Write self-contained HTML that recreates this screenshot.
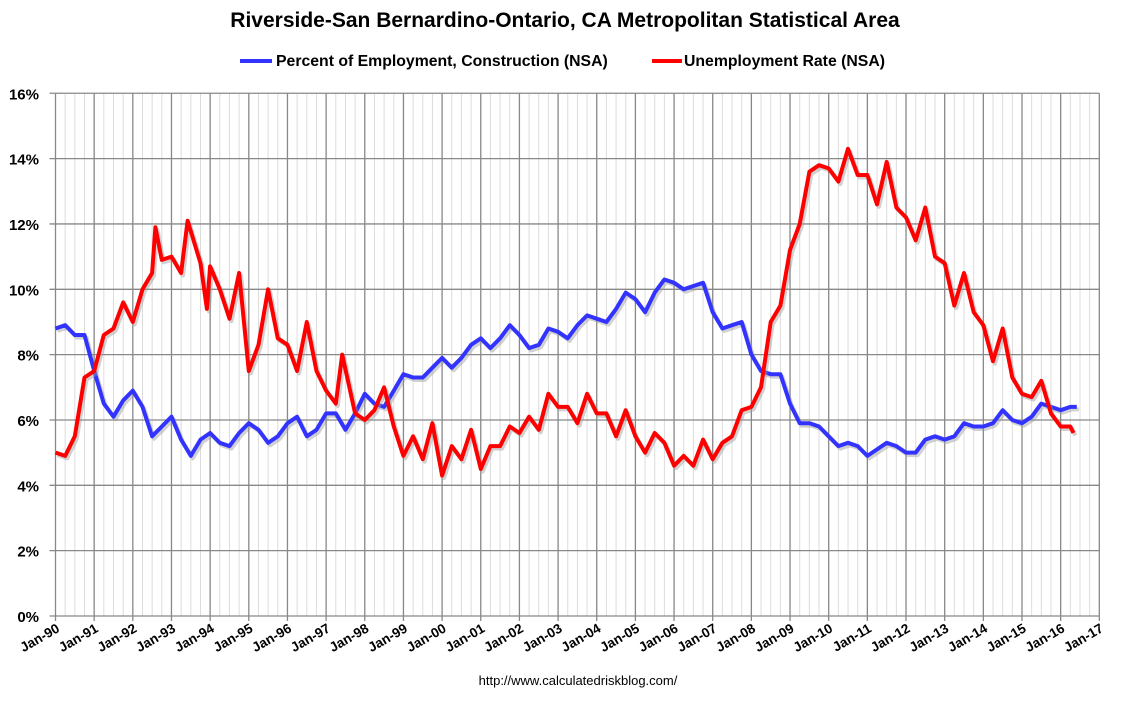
<!DOCTYPE html>
<html><head><meta charset="utf-8"><style>
html,body{margin:0;padding:0;background:#fff;}
svg text{font-family:"Liberation Sans",Arial,sans-serif;}
</style></head><body>
<svg id="chart" width="1121" height="697" xmlns="http://www.w3.org/2000/svg">
<text x="565" y="27" text-anchor="middle" font-size="21" font-weight="bold" fill="#000">Riverside-San Bernardino-Ontario, CA Metropolitan Statistical Area</text>
<g>
<line x1="240" y1="61" x2="272" y2="61" stroke="#3333ff" stroke-width="4"/>
<text x="276" y="66" font-size="15.8" font-weight="bold">Percent of Employment, Construction (NSA)</text>
<line x1="652" y1="61" x2="682" y2="61" stroke="#ff0000" stroke-width="4"/>
<text x="684" y="66" font-size="15.8" font-weight="bold">Unemployment Rate (NSA)</text>
</g>
<g id="grid"></g><g id="axes"></g><g id="series"></g>
<text x="578" y="685" text-anchor="middle" font-size="13">http://www.calculatedriskblog.com/</text>
</svg>
<script>
const yTicks=[0,2,4,6,8,10,12,14,16];
const xTickLabels=["Jan-90","Jan-91","Jan-92","Jan-93","Jan-94","Jan-95","Jan-96","Jan-97","Jan-98","Jan-99","Jan-00","Jan-01","Jan-02","Jan-03","Jan-04","Jan-05","Jan-06","Jan-07","Jan-08","Jan-09","Jan-10","Jan-11","Jan-12","Jan-13","Jan-14","Jan-15","Jan-16","Jan-17"];
// months since Jan-1990
const constructionMonths=[0,3,6,9,12,15,18,21,24,27,30,33,36,39,42,45,48,51,54,57,60,63,66,69,72,75,78,81,84,87,90,93,96,99,102,105,108,111,114,117,120,123,126,129,132,135,138,141,144,147,150,153,156,159,162,165,168,171,174,177,180,183,186,189,192,195,198,201,204,207,210,213,216,219,222,225,228,231,234,237,240,243,246,249,252,255,258,261,264,267,270,273,276,279,282,285,288,291,294,297,300,303,306,309,312,315,317];
const constructionValues=[8.8,8.9,8.6,8.6,7.5,6.5,6.1,6.6,6.9,6.4,5.5,5.8,6.1,5.4,4.9,5.4,5.6,5.3,5.2,5.6,5.9,5.7,5.3,5.5,5.9,6.1,5.5,5.7,6.2,6.2,5.7,6.2,6.8,6.5,6.4,6.9,7.4,7.3,7.3,7.6,7.9,7.6,7.9,8.3,8.5,8.2,8.5,8.9,8.6,8.2,8.3,8.8,8.7,8.5,8.9,9.2,9.1,9.0,9.4,9.9,9.7,9.3,9.9,10.3,10.2,10.0,10.1,10.2,9.3,8.8,8.9,9.0,8.0,7.5,7.4,7.4,6.5,5.9,5.9,5.8,5.5,5.2,5.3,5.2,4.9,5.1,5.3,5.2,5.0,5.0,5.4,5.5,5.4,5.5,5.9,5.8,5.8,5.9,6.3,6.0,5.9,6.1,6.5,6.4,6.3,6.4,6.4];
const unemploymentMonths=[0,3,6,9,12,15,18,21,24,27,30,31,33,36,39,41,45,47,48,51,54,57,60,63,66,69,72,75,78,81,84,87,89,93,96,99,102,105,108,111,114,117,120,123,126,129,132,135,138,141,144,147,150,153,156,159,162,165,168,171,174,177,180,183,186,189,192,195,198,201,204,207,210,213,216,219,222,225,228,231,234,237,240,243,246,249,252,255,258,261,264,267,270,273,276,279,282,285,288,291,294,297,300,303,306,309,312,315,316];
const unemploymentValues=[5.0,4.9,5.5,7.3,7.5,8.6,8.8,9.6,9.0,10.0,10.5,11.9,10.9,11.0,10.5,12.1,10.8,9.4,10.7,10.0,9.1,10.5,7.5,8.3,10.0,8.5,8.3,7.5,9.0,7.5,6.9,6.5,8.0,6.2,6.0,6.3,7.0,5.8,4.9,5.5,4.8,5.9,4.3,5.2,4.8,5.7,4.5,5.2,5.2,5.8,5.6,6.1,5.7,6.8,6.4,6.4,5.9,6.8,6.2,6.2,5.5,6.3,5.5,5.0,5.6,5.3,4.6,4.9,4.6,5.4,4.8,5.3,5.5,6.3,6.4,7.0,9.0,9.5,11.2,12.0,13.6,13.8,13.7,13.3,14.3,13.5,13.5,12.6,13.9,12.5,12.2,11.5,12.5,11.0,10.8,9.5,10.5,9.3,8.9,7.8,8.8,7.3,6.8,6.7,7.2,6.2,5.8,5.8,5.6];

const NS="http://www.w3.org/2000/svg";
const X0=55.5,PX_YR=38.66,Y0=616,PX_PCT=32.67;
function xScale(m){return X0+m/12*PX_YR;}
function yScale(v){return Y0-v*PX_PCT;}
function mk(tag,attrs,parent){const e=document.createElementNS(NS,tag);for(const k in attrs)e.setAttribute(k,attrs[k]);parent.appendChild(e);return e;}
const grid=document.getElementById('grid'),axes=document.getElementById('axes'),series=document.getElementById('series');
const xEnd=xScale(27*12);
for(let q=0;q<=27*4;q++){
  const x=xScale(q*3);
  const major=q%4===0;
  const l=mk('line',{x1:x,y1:yScale(16),x2:x,y2:Y0,stroke:major?'#888':'#dcdcdc','stroke-width':major?1.3:1},grid);
  
  
}
yTicks.forEach(v=>{
  const y=yScale(v);
  const l=mk('line',{x1:X0-6,y1:y,x2:xEnd,y2:y,stroke:'#888','stroke-width':1.3},grid);
  
  
  const t=mk('text',{x:39,y:y+6,'text-anchor':'end','font-size':15,'font-weight':'bold'},axes);
  t.textContent=v+'%';
  
  
});
xTickLabels.forEach((lab,i)=>{
  const x=xScale(i*12);
  const tk=mk('line',{x1:x,y1:Y0,x2:x,y2:Y0+5,stroke:'#888','stroke-width':1.3},axes);
  
  
  const t=mk('text',{x:x+5,y:Y0+15,'text-anchor':'end','font-size':13.5,'font-weight':'bold',transform:`rotate(-30 ${x+5} ${Y0+15})`},axes);
  t.textContent=lab;
  
  
});
function drawSeries(ms,vs,color,name){
  const d=ms.map((m,i)=>(i?'L':'M')+xScale(m).toFixed(1)+','+yScale(vs[i]).toFixed(1)).join(' ');
  const s=mk('path',{d:d,fill:'none',stroke:'#999','stroke-opacity':0.45,'stroke-width':4,transform:'translate(2,2.5)','stroke-linejoin':'round'},series);
  
  
  const p=mk('path',{d:d,fill:'none',stroke:color,'stroke-width':4,'stroke-linejoin':'round'},series);
  
  
}
drawSeries(constructionMonths,constructionValues,'#3333ff','construction-employment');
drawSeries(unemploymentMonths,unemploymentValues,'#ff0000','unemployment-rate');
</script>
</body></html>
